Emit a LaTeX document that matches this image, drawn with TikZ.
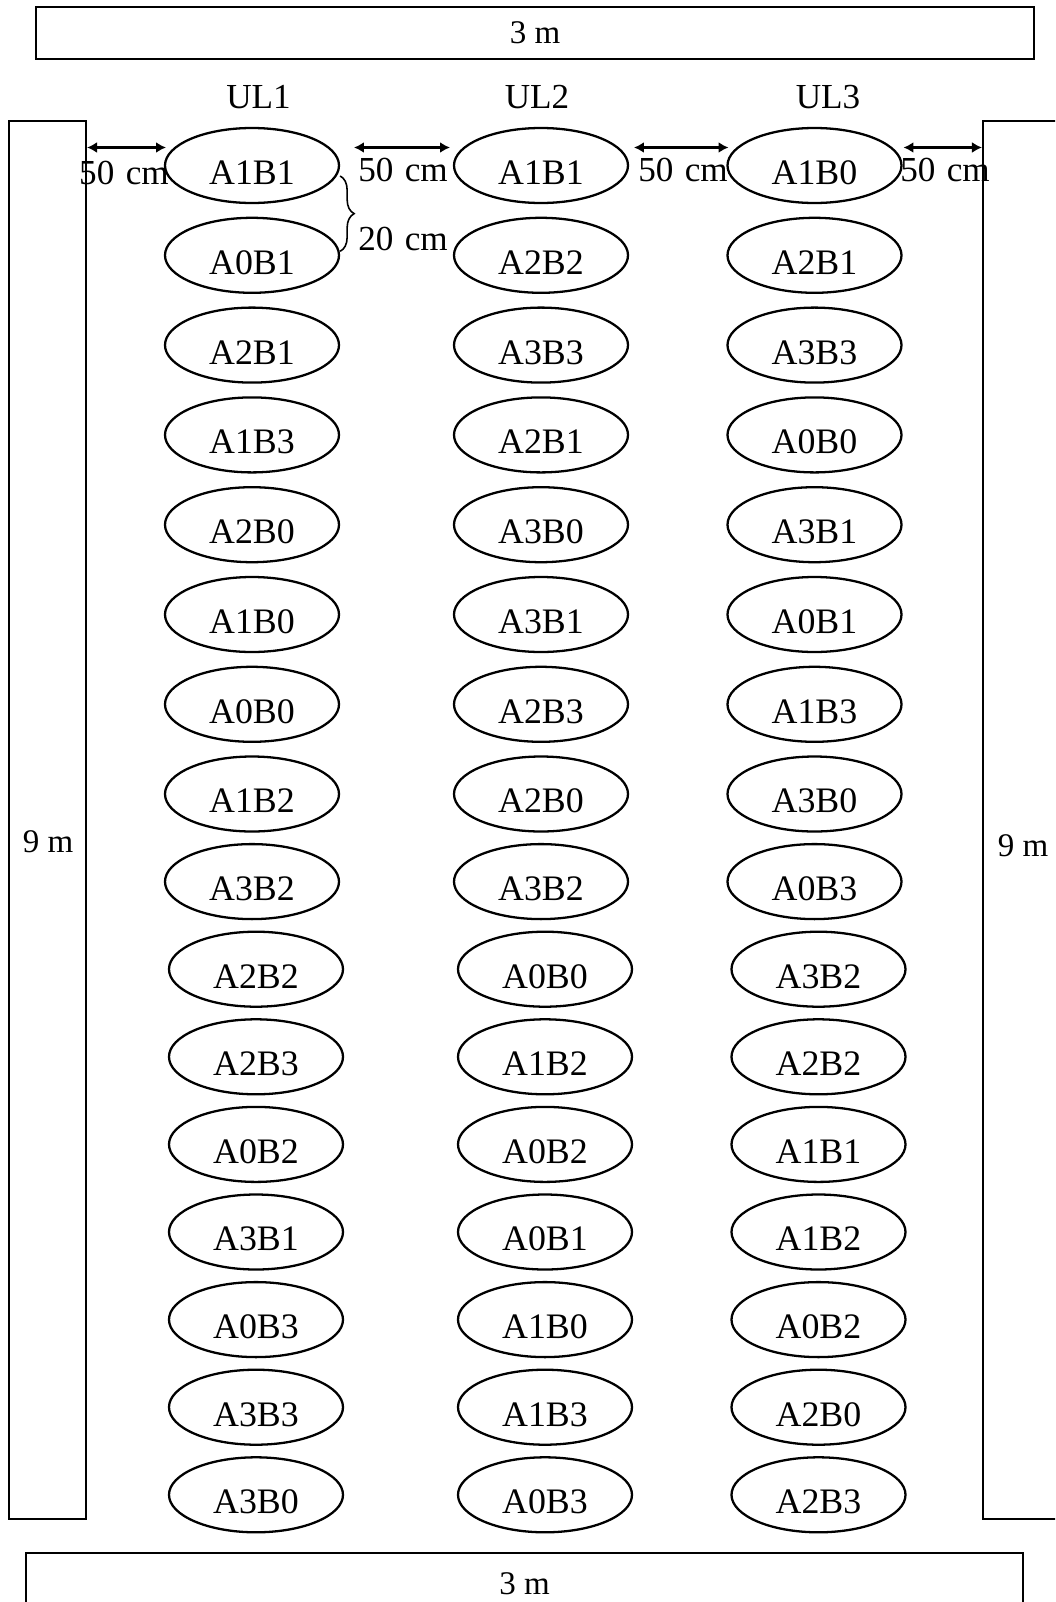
\documentclass[tikz,border=0pt]{standalone}
\usepackage{fontspec}
\setmainfont{Liberation Serif}
\newfontfamily\gapfont{Liberation Serif}[WordSpace=1.3]
\usetikzlibrary{arrows.meta,shapes.geometric,decorations.pathreplacing}

\begin{document}
\begin{tikzpicture}[
    font=\fontsize{9.4}{11}\selectfont,
    wall/.style={rectangle, draw=black, line width=0.6pt, inner sep=0pt},
    plot/.style={ellipse, draw=black, line width=0.65pt, minimum width=1.74cm, minimum height=0.75cm, inner sep=0pt, text height=0.378cm, text depth=0pt, font=\fontsize{10.2}{12}\selectfont},
    heading/.style={inner sep=0pt, font=\fontsize{10}{12}\selectfont},
    gaplabel/.style={inner sep=0pt, font=\fontsize{10}{12}\selectfont\gapfont},
    gap/.style={{Latex[length=1mm,width=1.1mm]}-{Latex[length=1mm,width=1.1mm]}, line width=0.7pt},
    spacing/.style={decorate, decoration={brace, amplitude=0.14cm}, line width=0.45pt}
]
\useasboundingbox (0,0) rectangle (10.55,-16.02);
\clip (0,0) rectangle (10.55,-16.02);

\node[wall, minimum width=9.98cm, minimum height=0.52cm] (WallT) at (5.35,-0.33) {3 m};
\node[wall, minimum width=9.97cm, minimum height=0.62cm] (WallB) at (5.245,-15.84) {3 m};
\node[wall, minimum width=0.77cm, minimum height=13.98cm] (WallL) at (0.475,-8.2) {};
\node[wall, minimum width=0.92cm, minimum height=13.98cm] (WallR) at (10.29,-8.2) {};
\node[inner sep=0pt] (LenL) at (0.48,-8.415) {9 m};
\node[inner sep=0pt] (LenR) at (10.23,-8.46) {9 m};

\node[heading] (UL1) at (2.585,-0.966) {UL1};
\node[heading] (UL2) at (5.37,-0.966) {UL2};
\node[heading] (UL3) at (8.28,-0.966) {UL3};

\node[plot] (UL1r1) at (2.52,-1.655) {A1B1};
\node[plot] (UL1r2) at (2.52,-2.553) {A0B1};
\node[plot] (UL1r3) at (2.52,-3.451) {A2B1};
\node[plot] (UL1r4) at (2.52,-4.349) {A1B3};
\node[plot] (UL1r5) at (2.52,-5.247) {A2B0};
\node[plot] (UL1r6) at (2.52,-6.145) {A1B0};
\node[plot] (UL1r7) at (2.52,-7.043) {A0B0};
\node[plot] (UL1r8) at (2.52,-7.94) {A1B2};
\node[plot] (UL1r9) at (2.52,-8.816) {A3B2};
\node[plot] (UL1r10) at (2.56,-9.692) {A2B2};
\node[plot] (UL1r11) at (2.56,-10.568) {A2B3};
\node[plot] (UL1r12) at (2.56,-11.444) {A0B2};
\node[plot] (UL1r13) at (2.56,-12.32) {A3B1};
\node[plot] (UL1r14) at (2.56,-13.196) {A0B3};
\node[plot] (UL1r15) at (2.56,-14.072) {A3B3};
\node[plot] (UL1r16) at (2.56,-14.948) {A3B0};

\node[plot] (UL2r1) at (5.41,-1.655) {A1B1};
\node[plot] (UL2r2) at (5.41,-2.553) {A2B2};
\node[plot] (UL2r3) at (5.41,-3.451) {A3B3};
\node[plot] (UL2r4) at (5.41,-4.349) {A2B1};
\node[plot] (UL2r5) at (5.41,-5.247) {A3B0};
\node[plot] (UL2r6) at (5.41,-6.145) {A3B1};
\node[plot] (UL2r7) at (5.41,-7.043) {A2B3};
\node[plot] (UL2r8) at (5.41,-7.94) {A2B0};
\node[plot] (UL2r9) at (5.41,-8.816) {A3B2};
\node[plot] (UL2r10) at (5.45,-9.692) {A0B0};
\node[plot] (UL2r11) at (5.45,-10.568) {A1B2};
\node[plot] (UL2r12) at (5.45,-11.444) {A0B2};
\node[plot] (UL2r13) at (5.45,-12.32) {A0B1};
\node[plot] (UL2r14) at (5.45,-13.196) {A1B0};
\node[plot] (UL2r15) at (5.45,-14.072) {A1B3};
\node[plot] (UL2r16) at (5.45,-14.948) {A0B3};

\node[plot] (UL3r1) at (8.145,-1.655) {A1B0};
\node[plot] (UL3r2) at (8.145,-2.553) {A2B1};
\node[plot] (UL3r3) at (8.145,-3.451) {A3B3};
\node[plot] (UL3r4) at (8.145,-4.349) {A0B0};
\node[plot] (UL3r5) at (8.145,-5.247) {A3B1};
\node[plot] (UL3r6) at (8.145,-6.145) {A0B1};
\node[plot] (UL3r7) at (8.145,-7.043) {A1B3};
\node[plot] (UL3r8) at (8.145,-7.94) {A3B0};
\node[plot] (UL3r9) at (8.145,-8.816) {A0B3};
\node[plot] (UL3r10) at (8.185,-9.692) {A3B2};
\node[plot] (UL3r11) at (8.185,-10.568) {A2B2};
\node[plot] (UL3r12) at (8.185,-11.444) {A1B1};
\node[plot] (UL3r13) at (8.185,-12.32) {A1B2};
\node[plot] (UL3r14) at (8.185,-13.196) {A0B2};
\node[plot] (UL3r15) at (8.185,-14.072) {A2B0};
\node[plot] (UL3r16) at (8.185,-14.948) {A2B3};

\node[gaplabel] (GapA) at (1.24,-1.725) {50 cm};
\node[gaplabel] (GapB) at (4.03,-1.70) {50 cm};
\node[gaplabel] (GapC) at (6.83,-1.70) {50 cm};
\node[gaplabel] (GapD) at (9.45,-1.70) {50 cm};
\node[gaplabel] (RowGap) at (4.03,-2.39) {20 cm};

\draw[gap] (WallL.east |- UL1r1.167) -- ([xshift=-0.08cm]UL1r1.167);
\draw[gap] ([xshift=0.24cm]UL1r1.13) -- ([xshift=-0.13cm]UL2r1.167);
\draw[gap] ([xshift=0.15cm]UL2r1.13) -- ([xshift=-0.08cm]UL3r1.167);
\draw[gap] ([xshift=0.11cm]UL3r1.13) -- (WallR.west |- UL3r1.13);
\draw[spacing] ([yshift=-0.105cm]UL1r1.east) -- ([yshift=0.04cm]UL1r2.east);
\end{tikzpicture}
\end{document}
